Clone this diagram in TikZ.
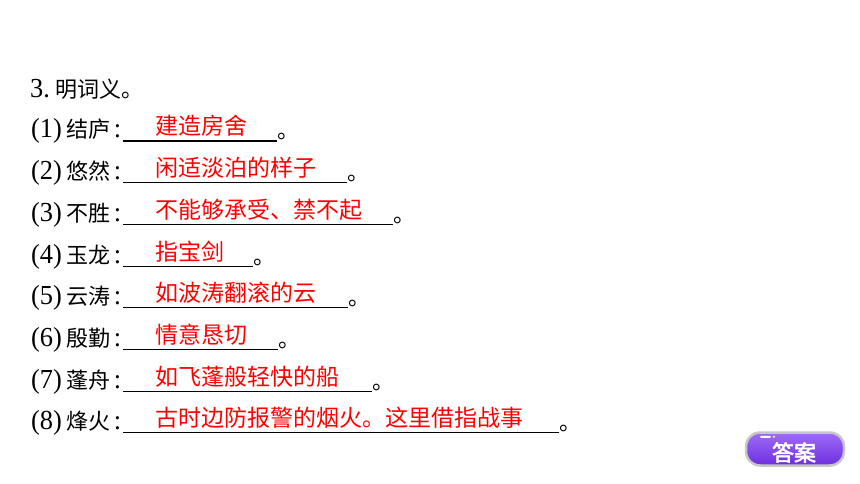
\documentclass[tikz,border=0pt]{standalone}
\usepackage{fontspec}
\setmainfont{Liberation Serif}
\newfontfamily\cjk{Noto Sans CJK SC}
\newfontfamily\cjkbold[FakeBold=2.5]{Noto Sans CJK SC}
\newcommand{\tnum}[2]{\makebox[#1pt][l]{\scalebox{1.2}[1.25]{#2}}}
\begin{document}
\begin{tikzpicture}[x=1pt, y=-1pt]
    \tikzstyle{term} = [ anchor=base west, inner sep=0pt, font=\fontsize{22}{26}\selectfont ];
    \tikzstyle{answer} = [ anchor=base west, inner sep=0pt, text=red, font=\cjk\fontsize{23}{27}\selectfont ];
    \tikzstyle{blank} = [ draw=black, line width=1.1pt ];
    \tikzstyle{stop} = [ anchor=base west, inner sep=0pt, yshift=2pt, font=\cjk\fontsize{22}{26}\selectfont ];
    \tikzstyle{btn} = [ shape=rectangle, rounded corners=0.5cm, minimum width=98pt, minimum height=33pt, draw=black!22, line width=2.5pt, top color={rgb,255:red,160;green,108;blue,248}, bottom color={rgb,255:red,108;green,46;blue,222} ];

    \useasboundingbox [fill=white] (0,0) rectangle (860,484);

    \node (nTitle) [term] at (30,98) {\tnum{25}{3.}{\cjk 明词义。}};

    % (1) - (4)
    \node (nJieLu) [term] at (31,138) {\tnum{35}{(1)}{\cjk 结庐}\,\tnum{8}{:}};
    \coordinate (uJieLu) at (123,141);
    \draw [blank] (uJieLu) -- ++(154,0) node [stop] {。};
    \node (aJieLu) [answer] at (155,135) {建造房舍};

    \node (nYouRan) [term] at (31,179.7) {\tnum{35}{(2)}{\cjk 悠然}\,\tnum{8}{:}};
    \coordinate (uYouRan) at (123,182.7);
    \draw [blank] (uYouRan) -- ++(224,0) node [stop] {。};
    \node (aYouRan) [answer] at (155,176.7) {闲适淡泊的样子};

    \node (nBuSheng) [term] at (31,221.4) {\tnum{35}{(3)}{\cjk 不胜}\,\tnum{8}{:}};
    \coordinate (uBuSheng) at (123,224.4);
    \draw [blank] (uBuSheng) -- ++(270,0) node [stop] {。};
    \node (aBuSheng) [answer] at (155,218.4) {不能够承受、禁不起};

    \node (nYuLong) [term] at (31,263.1) {\tnum{35}{(4)}{\cjk 玉龙}\,\tnum{8}{:}};
    \coordinate (uYuLong) at (123,266.1);
    \draw [blank] (uYuLong) -- ++(130,0) node [stop] {。};
    \node (aYuLong) [answer] at (155,260.1) {指宝剑};

    % (5) - (8)
    \node (nYunTao) [term] at (31,304.8) {\tnum{35}{(5)}{\cjk 云涛}\,\tnum{8}{:}};
    \coordinate (uYunTao) at (123,307.8);
    \draw [blank] (uYunTao) -- ++(225,0) node [stop] {。};
    \node (aYunTao) [answer] at (155,301.8) {如波涛翻滚的云};

    \node (nYinQin) [term] at (31,346.5) {\tnum{35}{(6)}{\cjk 殷勤}\,\tnum{8}{:}};
    \coordinate (uYinQin) at (123,349.5);
    \draw [blank] (uYinQin) -- ++(155,0) node [stop] {。};
    \node (aYinQin) [answer] at (155,343.5) {情意恳切};

    \node (nPengZhou) [term] at (31,388.2) {\tnum{35}{(7)}{\cjk 蓬舟}\,\tnum{8}{:}};
    \coordinate (uPengZhou) at (123,391.2);
    \draw [blank] (uPengZhou) -- ++(249,0) node [stop] {。};
    \node (aPengZhou) [answer] at (155,385.2) {如飞蓬般轻快的船};

    \node (nFengHuo) [term] at (31,429.9) {\tnum{35}{(8)}{\cjk 烽火}\,\tnum{8}{:}};
    \coordinate (uFengHuo) at (123,432.9);
    \draw [blank] (uFengHuo) -- ++(436,0) node [stop] {。};
    \node (aFengHuo) [answer] at (155,426.9) {古时边防报警的烟火。这里借指战事};

    % answer button
    \node (nAnswer) [btn] at (795,449) {};
    \node (nAnswerText) [text=white, font=\cjkbold\fontsize{22}{26}\selectfont] at (794,452.5) {答案};
    \fill [white, rounded corners=1pt] (760,435.8) rectangle (771,437.8);
    \fill [white] (774,436.8) circle (1.1pt);
\end{tikzpicture}
\end{document}
